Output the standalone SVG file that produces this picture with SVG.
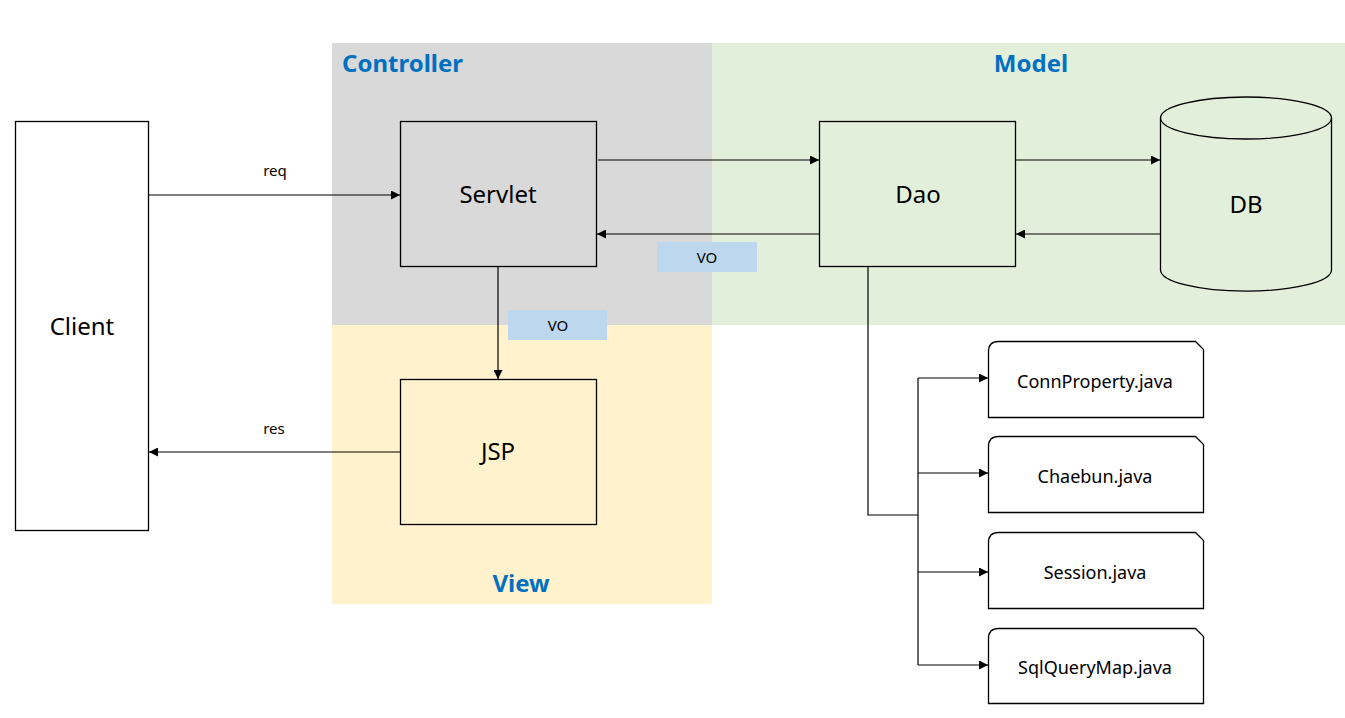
<svg xmlns="http://www.w3.org/2000/svg" width="1345" height="718" viewBox="0 0 1345 718">
<defs>
<style>
.node{fill:none;stroke:#000;stroke-width:1.3}
.file{fill:#fff;stroke:#000;stroke-width:1.3}
.conn{fill:none;stroke:#000;stroke-width:1.2}
.lbl{font-family:"Noto Sans","Noto Sans CJK KR",sans-serif;fill:#000;text-anchor:middle}
.big{font-size:24px}
.mid{font-size:18px}
.sm{font-size:15px}
.head{font-family:"Noto Sans","Noto Sans CJK KR",sans-serif;font-weight:bold;font-size:24px;fill:#0070c0}
.vo{fill:#bdd7ee}
</style>
<marker id="ah" viewBox="0 0 10 10" refX="10" refY="5" markerWidth="10" markerHeight="9" markerUnits="userSpaceOnUse" orient="auto">
<path d="M0,0 L10,5 L0,10 z" fill="#000"/>
</marker>
</defs>
<rect width="1345" height="718" fill="#fff"/>
<g id="regions">
<rect x="332" y="43" width="380" height="282" fill="#d9d9d9"/>
<rect x="712" y="43" width="633" height="282" fill="#e2efda"/>
<rect x="332" y="325" width="380" height="279" fill="#fff2cc"/>
<text class="head" x="342" y="72">Controller</text>
<text class="head" x="1031" y="72" text-anchor="middle">Model</text>
<text class="head" x="521" y="592" text-anchor="middle">View</text>
</g>
<g id="connectors">
<line class="conn" x1="148" y1="195" x2="400" y2="195" marker-end="url(#ah)"/>
<line class="conn" x1="400" y1="452" x2="149" y2="452" marker-end="url(#ah)"/>
<line class="conn" x1="598" y1="160" x2="819" y2="160" marker-end="url(#ah)"/>
<line class="conn" x1="819" y1="234" x2="597" y2="234" marker-end="url(#ah)"/>
<line class="conn" x1="1015" y1="160" x2="1160" y2="160" marker-end="url(#ah)"/>
<line class="conn" x1="1160" y1="234" x2="1016" y2="234" marker-end="url(#ah)"/>
<line class="conn" x1="498" y1="267" x2="498" y2="379" marker-end="url(#ah)"/>
<polyline class="conn" points="868,267 868,515 918,515"/>
<line class="conn" x1="918" y1="378" x2="918" y2="665"/>
<line class="conn" x1="918" y1="378" x2="988" y2="378" marker-end="url(#ah)"/>
<line class="conn" x1="918" y1="473" x2="988" y2="473" marker-end="url(#ah)"/>
<line class="conn" x1="918" y1="572" x2="988" y2="572" marker-end="url(#ah)"/>
<line class="conn" x1="918" y1="665" x2="988" y2="665" marker-end="url(#ah)"/>
<text class="lbl sm" x="275" y="176">req</text>
<text class="lbl sm" x="274" y="434">res</text>
<rect class="vo" x="657" y="242" width="100" height="30"/>
<text class="lbl sm" x="707" y="263">VO</text>
<rect class="vo" x="508" y="310" width="99" height="30"/>
<text class="lbl sm" x="558" y="331">VO</text>
</g>
<g id="client">
<rect class="node" x="15.5" y="121.5" width="133" height="409"/>
<text class="lbl big" x="82" y="335">Client</text>
</g>
<g id="servlet">
<rect class="node" x="400.5" y="121.5" width="196" height="145"/>
<text class="lbl big" x="498" y="203">Servlet</text>
</g>
<g id="dao">
<rect class="node" x="819.5" y="121.5" width="196" height="145"/>
<text class="lbl big" x="918" y="203">Dao</text>
</g>
<g id="jsp">
<rect class="node" x="400.5" y="379.5" width="196" height="145"/>
<text class="lbl big" x="498" y="460">JSP</text>
</g>
<g id="db">
<path class="node" d="M1160.5,118 L1160.5,270 A85,21 0 0 0 1331.5,270 L1331.5,118"/>
<ellipse class="node" cx="1246" cy="118" rx="85.5" ry="21"/>
<text class="lbl big" x="1246" y="213">DB</text>
</g>
<g id="connproperty">
<path class="file" d="M998.5,341.5 L1195.5,341.5 L1203.5,349.5 L1203.5,417.5 L988.5,417.5 L988.5,351.5 Q988.5,341.5 998.5,341.5 Z"/>
<text class="lbl mid" x="1095" y="388">ConnProperty.java</text>
</g>
<g id="chaebun">
<path class="file" d="M998.5,436.5 L1195.5,436.5 L1203.5,444.5 L1203.5,512.5 L988.5,512.5 L988.5,446.5 Q988.5,436.5 998.5,436.5 Z"/>
<text class="lbl mid" x="1095" y="483">Chaebun.java</text>
</g>
<g id="session">
<path class="file" d="M998.5,532.5 L1195.5,532.5 L1203.5,540.5 L1203.5,608.5 L988.5,608.5 L988.5,542.5 Q988.5,532.5 998.5,532.5 Z"/>
<text class="lbl mid" x="1095" y="579">Session.java</text>
</g>
<g id="sqlquerymap">
<path class="file" d="M998.5,628.5 L1195.5,628.5 L1203.5,636.5 L1203.5,703.5 L988.5,703.5 L988.5,638.5 Q988.5,628.5 998.5,628.5 Z"/>
<text class="lbl mid" x="1095" y="674">SqlQueryMap.java</text>
</g>
</svg>
